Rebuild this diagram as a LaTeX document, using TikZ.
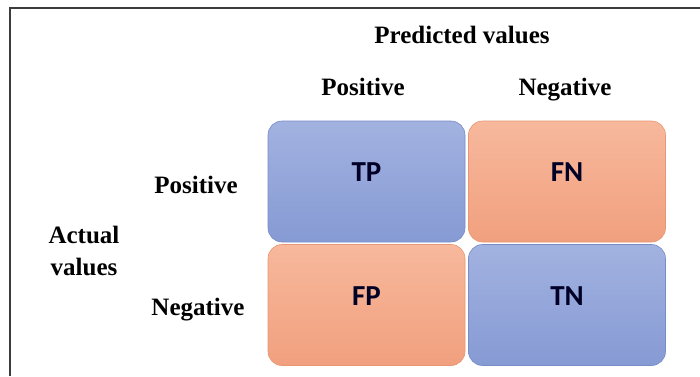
\documentclass[tikz,border=0pt]{standalone}
\usepackage{fontspec}
\setmainfont{Liberation Serif}
\newfontfamily\cellfont{Carlito}
\definecolor{bluetop}{RGB}{162,178,224}
\definecolor{bluebot}{RGB}{134,154,212}
\definecolor{blueedge}{RGB}{120,140,200}
\definecolor{orangetop}{RGB}{247,184,156}
\definecolor{orangebot}{RGB}{241,160,126}
\definecolor{orangeedge}{RGB}{232,150,115}
\definecolor{frameline}{RGB}{60,60,60}

\begin{document}
\begin{tikzpicture}[x=1pt, y=-1pt,
  every node/.style={font=\fontsize{25}{32}\selectfont\bfseries, align=center, inner sep=0pt},
  cell/.style={rounded corners=14pt, minimum width=197pt, minimum height=121pt, text height=20pt, text depth=20pt, font=\fontsize{29}{32}\selectfont\cellfont\bfseries, text=black!85!blue},
  bluecell/.style={cell, draw=blueedge, line width=0.6pt, top color=bluetop, bottom color=bluebot},
  orangecell/.style={cell, draw=orangeedge, line width=0.6pt, top color=orangetop, bottom color=orangebot}]
\useasboundingbox (0,0) rectangle (700,376);
% frame, only left and top edges show
\draw[frameline, line width=1.6pt] (10,376) -- (10,8) -- (700,8);

\node[anchor=base] (pred) at (462,43) {Predicted values};
\node[anchor=base] (cpos) at (363,95) {Positive};
\node[anchor=base] (cneg) at (565,95) {Negative};
\node[anchor=base] (rpos) at (196,193) {Positive};
\node[anchor=base] (rneg) at (198,315) {Negative};
\node (actual) at (84,251) {Actual\\values};

\node[bluecell] (tp) at (366.5,181.5) {TP};
\node[orangecell] (fn) at (567,181.5) {FN};
\node[orangecell] (fp) at (366.5,305) {FP};
\node[bluecell] (tn) at (567,305) {TN};
\end{tikzpicture}
\end{document}
